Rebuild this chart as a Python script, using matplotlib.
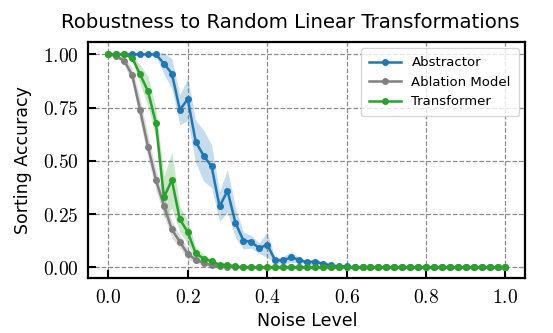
import matplotlib
matplotlib.use("Agg")
import matplotlib.pyplot as plt
import numpy as np

# noise levels 0.00 .. 1.00 step 0.02 (51 points)
noise = [round(0.02 * i, 2) for i in range(51)]

abstractor = [1.0, 1.0, 1.0, 1.0, 1.0, 1.0, 1.0, 0.957, 0.91, 0.74,
              0.79, 0.59, 0.524, 0.474, 0.286, 0.36, 0.21, 0.126, 0.12, 0.09,
              0.107, 0.033, 0.033, 0.047, 0.036, 0.024, 0.027, 0.017, 0.01, 0.005,
              0.006] + [0.0] * 20
abstractor_std = [0.0, 0.0, 0.0, 0.0, 0.0, 0.0, 0.01, 0.05, 0.07, 0.07,
                  0.1, 0.1, 0.12, 0.1, 0.07, 0.1, 0.07, 0.04, 0.03, 0.025,
                  0.06, 0.012, 0.018, 0.025, 0.012, 0.01, 0.015, 0.01, 0.005, 0.003,
                  0.003] + [0.0] * 20

ablation = [1.0, 0.992, 0.97, 0.903, 0.739, 0.565, 0.41, 0.289, 0.178, 0.12,
            0.063, 0.036, 0.02, 0.01, 0.005, 0.002] + [0.0] * 35
ablation_std = [0.0, 0.005, 0.02, 0.035, 0.055, 0.055, 0.05, 0.045, 0.04, 0.03,
                0.025, 0.015, 0.01, 0.006, 0.003, 0.001] + [0.0] * 35

transformer = [1.0, 1.0, 1.0, 0.984, 0.906, 0.826, 0.676, 0.329, 0.41, 0.226,
               0.166, 0.066, 0.041, 0.028, 0.013, 0.012, 0.005] + [0.0] * 34
transformer_std = [0.0, 0.0, 0.0, 0.012, 0.045, 0.07, 0.07, 0.1, 0.13, 0.06,
                   0.055, 0.03, 0.02, 0.012, 0.006, 0.005, 0.002] + [0.0] * 34

series = [
    ("Abstractor", abstractor, abstractor_std, "#1f77b4"),
    ("Ablation Model", ablation, ablation_std, "gray"),
    ("Transformer", transformer, transformer_std, "#2ca02c"),
]

plt.rcParams["mathtext.fontset"] = "cm"

fig, ax = plt.subplots(figsize=(5.53, 3.33), dpi=100)
x = np.array(noise)
for name, mean, std, color in series:
    mean = np.array(mean)
    std = np.array(std)
    ax.plot(x, mean, "-o", color=color, lw=1.8, ms=4, label=name)
    ax.fill_between(x, mean - std, mean + std, color=color, alpha=0.25, lw=0)

ax.set_xlim(-0.05, 1.05)
ax.set_ylim(-0.05, 1.06)
xt = [0.0, 0.2, 0.4, 0.6, 0.8, 1.0]
yt = [0.0, 0.25, 0.5, 0.75, 1.0]
ax.set_xticks(xt)
ax.set_yticks(yt)
ax.set_xticklabels([f"${v:.1f}$" for v in xt], fontsize=14)
ax.set_yticklabels([f"${v:.2f}$" for v in yt], fontsize=14)
ax.tick_params(direction="in", length=6, width=1.5, pad=7)
for sp in ax.spines.values():
    sp.set_linewidth(1.6)
ax.grid(True, linestyle="--", color="gray", lw=0.9, alpha=0.9)

ax.set_xlabel("Noise Level", fontsize=12.5)
ax.set_ylabel("Sorting Accuracy", fontsize=12.5, labelpad=8)
ax.set_title("Robustness to Random Linear Transformations", fontsize=14.2, pad=10, x=0.462)
ax.legend(loc="upper right", fontsize=9.5, handlelength=2.4, borderpad=0.6)

fig.subplots_adjust(left=0.16, right=0.95, top=0.875, bottom=0.165)
fig.savefig("out.png", dpi=100)
